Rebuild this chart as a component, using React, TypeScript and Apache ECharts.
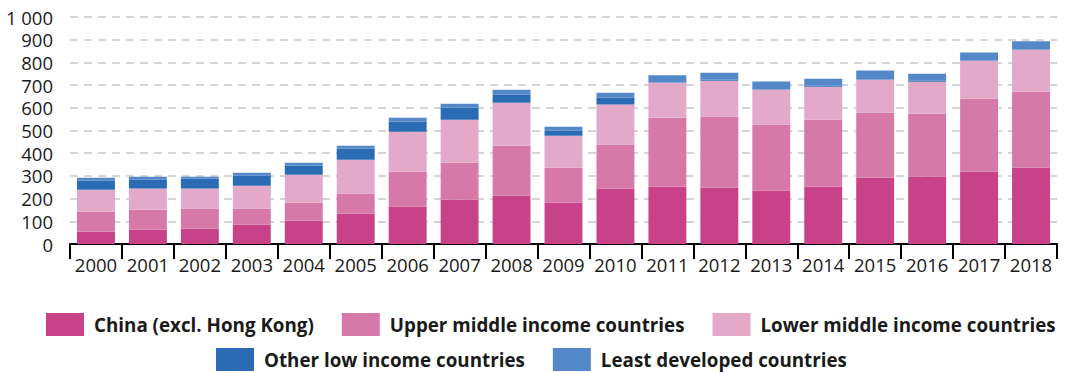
import React, { useEffect, useRef } from "react";
import * as echarts from "echarts";

const years = ["2000","2001","2002","2003","2004","2005","2006","2007","2008","2009","2010","2011","2012","2013","2014","2015","2016","2017","2018"];
const china = [54, 63, 67, 85, 103, 133, 164, 195, 213, 182, 244, 252, 248, 235, 252, 292, 296, 318, 336];
const upperMiddle = [88, 88, 89, 71, 79, 89, 154, 163, 220, 154, 193, 304, 313, 290, 295, 286, 278, 322, 335];
const lowerMiddle = [97, 93, 88, 101, 123, 149, 176, 189, 189, 141, 177, 154, 158, 155, 146, 146, 141, 167, 185];
const otherLow = [40, 39, 44, 44, 40, 49, 44, 53, 36, 22, 30, 2, 5, 1, 4, 1, 4, 1, 1];
const leastDeveloped = [13, 13, 8, 13, 13, 13, 18, 18, 22, 17, 22, 31, 30, 35, 31, 39, 31, 36, 36];
const yTicks = [0, 100, 200, 300, 400, 500, 600, 700, 800, 900, 1000];

const seriesDefs = [
  { name: "China (excl. Hong Kong)", data: china, color: "#c8428a" },
  { name: "Upper middle income countries", data: upperMiddle, color: "#d678a8" },
  { name: "Lower middle income countries", data: lowerMiddle, color: "#e2a9c9" },
  { name: "Other low income countries", data: otherLow, color: "#2b6bb3" },
  { name: "Least developed countries", data: leastDeveloped, color: "#5588c8" },
];

const FONT = "'Open Sans', sans-serif";
const TXT = "#1a1a1a";

export default function App() {
  const ref = useRef<HTMLDivElement>(null);
  useEffect(() => {
    if (!ref.current) return;
    const chart = echarts.init(ref.current, null, { renderer: "svg" });
    const legendText = {
      fontFamily: FONT,
      fontWeight: "bold",
      fontSize: 18.8,
      lineHeight: 22,
      color: TXT,
      padding: [0, 0, 0, 5],
    };
    const legendBase = {
      itemWidth: 38,
      itemHeight: 23,
      itemGap: 28,
      icon: "rect",
      padding: 0,
      textStyle: legendText,
      selectedMode: false,
    };
    chart.setOption({
      animation: false,
      textStyle: { fontFamily: FONT },
      grid: { left: 70, right: 8, top: 17, bottom: 129, containLabel: false },
      legend: [
        { ...legendBase, data: seriesDefs.slice(0, 3).map((s) => s.name), left: 46, top: 313 },
        { ...legendBase, data: seriesDefs.slice(3).map((s) => s.name), left: 216, top: 348 },
      ],
      xAxis: {
        type: "category",
        data: years,
        axisLine: { show: true, lineStyle: { color: "#000", width: 2 } },
        axisTick: { show: true, alignWithLabel: false, length: 15, lineStyle: { color: "#000", width: 2 } },
        axisLabel: { fontFamily: FONT, fontSize: 18.5, lineHeight: 20, color: TXT, margin: 10, interval: 0 },
      },
      yAxis: {
        type: "value",
        min: yTicks[0],
        max: yTicks[yTicks.length - 1],
        interval: 100,
        axisLine: { show: false },
        axisTick: { show: false },
        axisLabel: {
          fontFamily: FONT,
          fontSize: 18.5,
          lineHeight: 20,
          color: TXT,
          margin: 17,
          formatter: (v: number) => String(v).replace(/\B(?=(\d{3})+(?!\d))/g, " "),
        },
        splitLine: { show: true, lineStyle: { color: "#c8c8c8", type: [8, 6], width: 1.5 } },
      },
      series: seriesDefs.map((s) => ({
        name: s.name,
        type: "bar",
        stack: "total",
        data: s.data,
        barWidth: "73%",
        itemStyle: { color: s.color },
        emphasis: { disabled: true },
      })),
    });
    return () => chart.dispose();
  }, []);
  return <div ref={ref} style={{ width: 1065, height: 373, position: "absolute", left: 0, top: 0 }} />;
}
